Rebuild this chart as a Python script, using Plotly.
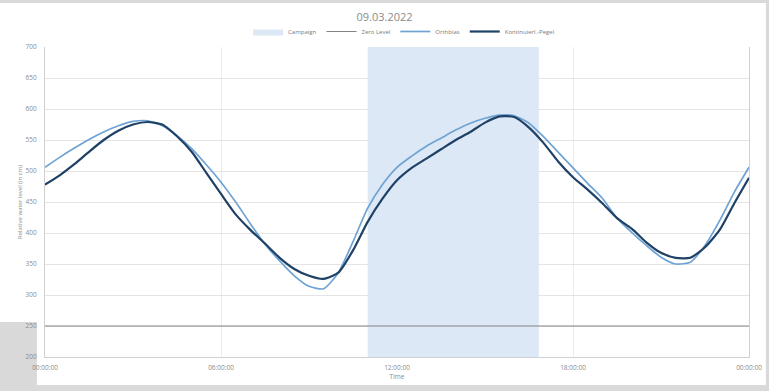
import plotly.graph_objects as go
import datetime as dt

# ---- data ----
hours = [i * 0.5 for i in range(49)]
orthbias = [506, 522, 537, 551, 563, 573, 580, 581, 573, 557, 536, 510, 482, 450, 415, 382,
            355, 331, 314, 310, 336, 386, 440, 478, 506, 524, 540, 553, 566, 577, 585, 590,
            589, 577, 555, 530, 505, 480, 456, 424, 401, 380, 361, 350, 353, 380, 420, 466, 506]
pegel = [478, 493, 511, 531, 550, 565, 575, 579, 575, 556, 531, 497, 463, 430, 405, 383,
         360, 342, 331, 326, 336, 372, 418, 455, 485, 505, 520, 535, 550, 563, 578, 588,
         587, 570, 545, 515, 490, 470, 448, 424, 407, 385, 368, 360, 360, 377, 405, 448, 489]
campaign_start = "2022-03-09 11:00:00"
campaign_end = "2022-03-09 16:50:00"
zero_level = 250
day_start = "2022-03-09 00:00:00"
day_end = "2022-03-10 00:00:00"
y_min, y_max = 200, 700

base = dt.datetime(2022, 3, 9)
times = [base + dt.timedelta(hours=h) for h in hours]

fig = go.Figure()
fig.add_trace(go.Scatter(
    x=[campaign_start, campaign_start, campaign_end, campaign_end],
    y=[y_min, y_max, y_max, y_min], fill="toself", mode="lines",
    fillcolor="#dce8f5", line=dict(width=0, color="#dce8f5"),
    name="Campaign", hoverinfo="skip"))
fig.add_trace(go.Scatter(
    x=[day_start, day_end], y=[zero_level, zero_level], mode="lines",
    line=dict(color="#848484", width=1), name="Zero Level"))
fig.add_trace(go.Scatter(
    x=times, y=orthbias, mode="lines",
    line=dict(color="#6ea3d4", width=1.7, shape="spline", smoothing=0.6),
    name="Orthbias"))
fig.add_trace(go.Scatter(
    x=times, y=pegel, mode="lines",
    line=dict(color="#1f4166", width=2.2, shape="spline", smoothing=0.6),
    name="Kontinuierl.-Pegel"))

tick_font = dict(family="Open Sans", size=6.5, color="#8c8c8c")

fig.update_layout(
    width=769, height=391,
    margin=dict(l=45, r=20, t=47, b=34),
    paper_bgcolor="#d9d9d9",
    plot_bgcolor="white",
    title=dict(text="09.03.2022", x=0.5, xanchor="center", y=0.955, yanchor="middle",
               font=dict(family="Open Sans", size=11, color="#8a8a8a")),
    legend=dict(orientation="h", x=0.51, xanchor="center", y=1.05, yanchor="middle",
                font=dict(family="Open Sans", size=6, color="#7a7a7a"),
                bgcolor="rgba(0,0,0,0)", itemwidth=30, tracegroupgap=0),
    showlegend=True,
    shapes=[
        dict(type="rect", xref="paper", yref="paper", x0=-0.0115, x1=1.024, y0=-0.0903, y1=1.142,
             fillcolor="white", line=dict(width=0), layer="below"),
        dict(type="rect", xref="paper", yref="paper", x0=-0.07, x1=0.0, y0=0.113, y1=1.142,
             fillcolor="white", line=dict(width=0), layer="below"),
    ],
)
fig.update_xaxes(
    type="date", range=[day_start, day_end], dtick=6 * 3600 * 1000, tick0=day_start,
    tickformat="%H:%M:%S", tickfont=tick_font, showgrid=True, gridcolor="#ececec", gridwidth=1,
    showline=True, linecolor="#d0d0d0", linewidth=1, zeroline=False, ticks="",
    ticklabelstandoff=4, automargin=False,
    title=dict(text="Time", font=dict(family="Open Sans", size=6.5, color="#8c8c8c"), standoff=2),
)
fig.update_yaxes(
    range=[y_min, y_max], dtick=50, tick0=200, tickfont=tick_font, showgrid=True,
    gridcolor="#e4e4e4", gridwidth=1, showline=True, mirror=True, linecolor="#d0d0d0",
    zeroline=False, ticks="", ticklabelstandoff=6, automargin=False,
    title=dict(text="Relative water level (in cm)",
               font=dict(family="Open Sans", size=6, color="#8c8c8c"), standoff=2),
)

fig.write_html("out.html")
